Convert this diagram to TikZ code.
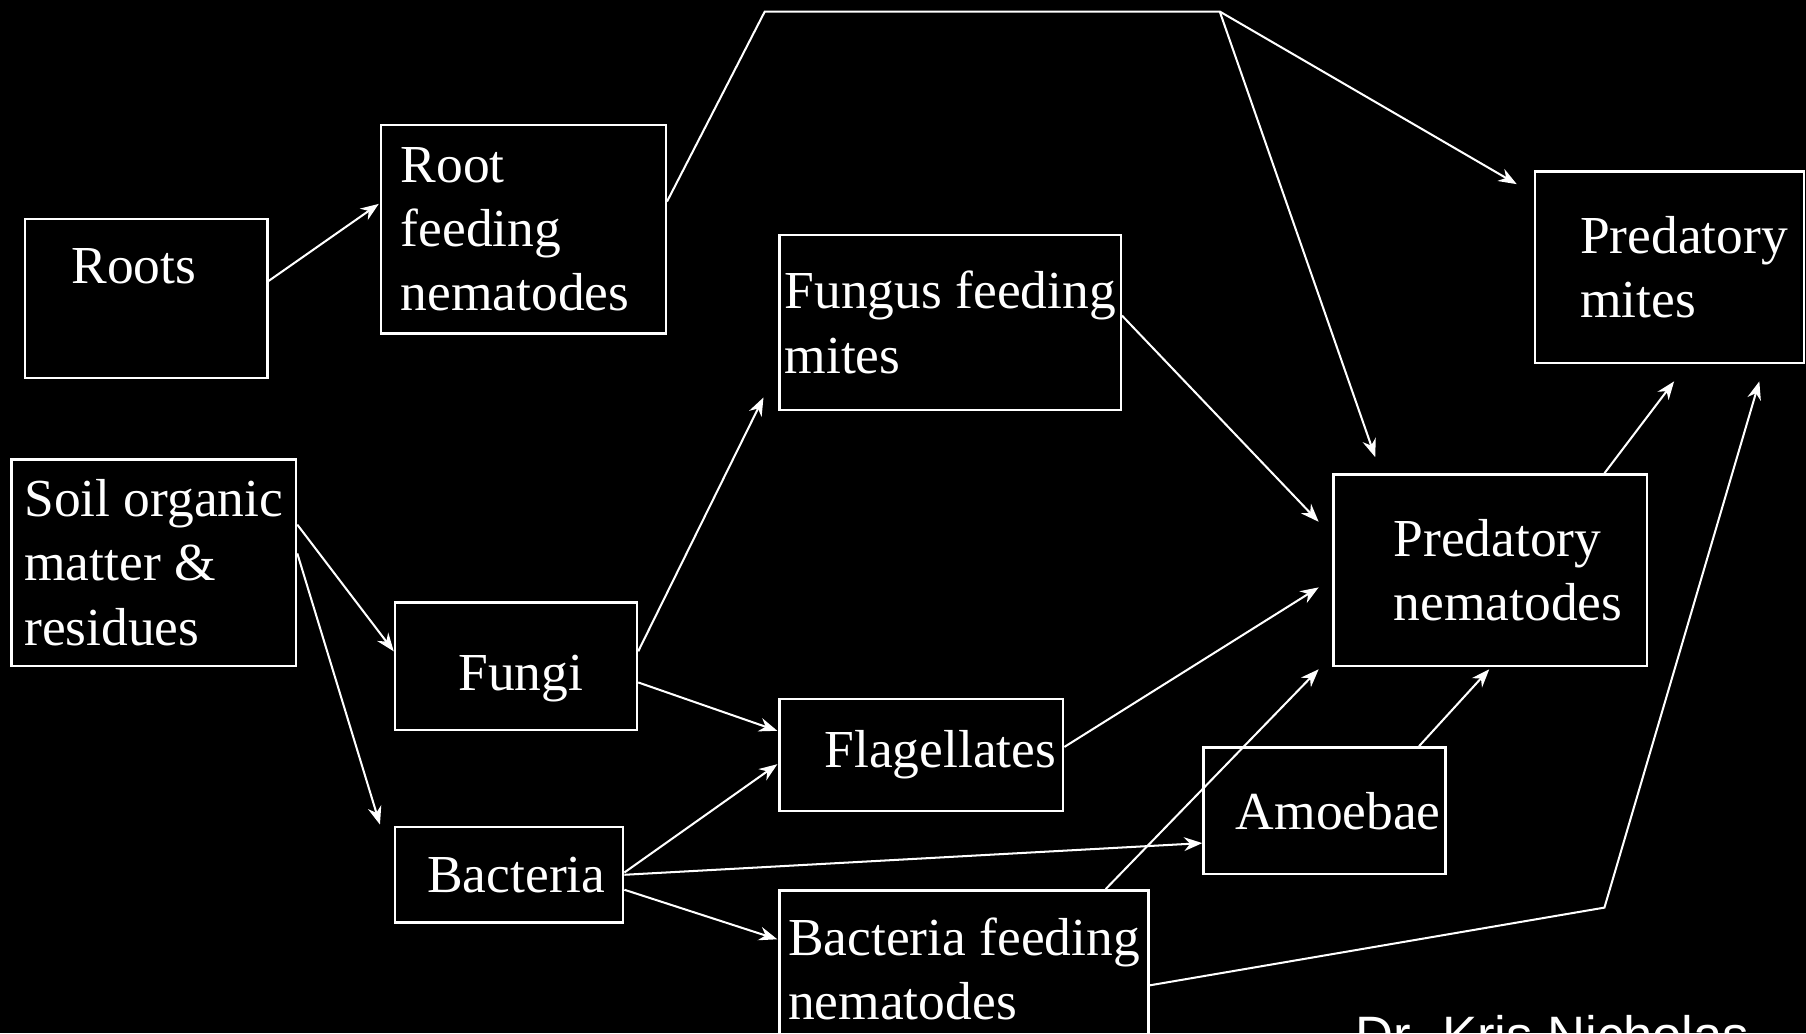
\documentclass[tikz,border=0pt]{standalone}
\usepackage{fontspec}
\setmainfont{Liberation Serif}
\newfontfamily\creditfont{Liberation Sans}
\usepackage{tikz}
\usetikzlibrary{arrows.meta,calc}
\hyphenpenalty=10000

\begin{document}
\begin{tikzpicture}[x=0.01cm,y=-0.01cm,>={Stealth[length=4.5pt,width=3.4pt]},
    food/.style={draw=white,line width=0.6pt,text=white,align=left,inner xsep=0pt,
        font=\fontsize{13.2}{15.9}\selectfont},
    link/.style={white,line width=0.5pt}]

\useasboundingbox (0,0) rectangle (1568,897);
\fill[black] (0,0) rectangle (1568,897);
\clip (0,0) rectangle (1568,897);

% ---------- sources ----------
\node[food,minimum width=2.10cm,minimum height=1.38cm,text width=1.30cm] (roots) at (127,259) {Roots\\~};
\node[food,minimum width=2.47cm,minimum height=1.79cm] (som) at (133.5,488.5) {Soil organic\\matter \&\\residues};

% ---------- first level ----------
\node[food,minimum width=2.47cm,minimum height=1.81cm,text width=2.13cm] (rfn) at (454.5,199) {Root\\feeding\\nematodes};
\node[food,minimum width=2.10cm,minimum height=1.11cm,text width=1.00cm,text height=0.52cm] (fungi) at (448,578.5) {Fungi};
\node[food,minimum width=1.98cm,minimum height=0.83cm,text width=1.42cm] (bact) at (442,759.5) {Bacteria};

% ---------- grazers ----------
\node[food,minimum width=2.96cm,minimum height=1.52cm] (ffm) at (825,280) {Fungus feeding\\mites};
\node[food,minimum width=2.46cm,minimum height=0.97cm,text width=1.68cm] (flag) at (800,655.5) {Flagellates};
\node[food,minimum width=2.10cm,minimum height=1.10cm,text width=1.54cm] (amoe) at (1150,704) {Amoebae};
\node[food,minimum width=3.20cm,minimum height=1.37cm] (bfn) at (837,841.5) {Bacteria feeding\\nematodes};

% ---------- predators ----------
\node[food,minimum width=2.72cm,minimum height=1.66cm,text width=1.68cm] (pne) at (1294,495) {Predatory\\nematodes};
\node[food,minimum width=2.33cm,minimum height=1.66cm,text width=1.55cm] (pmi) at (1449.5,232) {Predatory\\mites};

\node[text=white,font=\creditfont\fontsize{13}{15}\selectfont,anchor=base west,inner sep=0pt] (credit) at (1176,915) {Dr. Kris Nicholas};

% ---------- links ----------
\coordinate (top1) at (664,10);
\coordinate (top2) at (1059,10);
\coordinate (bend) at (1393,788);

\draw[link,->] ($(roots.east)+(0,-15)$) -- ($(rfn.west)+(-1,-22)$);
\draw[link,->] ($(rfn.east)+(0,-24)$) -- (top1) -- (top2) -- ($(pmi.north west)+(-15,12)$);
\draw[link,->] (top2) -- ($(pne.north)+(-100,-14)$);
\draw[link,->] ($(ffm.east)+(0,-6)$) -- ($(pne.west)+(-12,-42)$);

\draw[link,->] ($(som.east)+(0,-33)$) -- ($(fungi.west)+(0,-13)$);
\draw[link,->] ($(som.east)+(0,-8)$) -- ($(bact.north west)+(-12,-1)$);

\draw[link,->] ($(fungi.east)+(0,-13)$) -- ($(ffm.south west)+(-13,-12)$);
\draw[link,->] ($(fungi.east)+(0,14)$) -- ($(flag.west)+(-1,-21)$);

\draw[link,->] ($(bact.east)+(0,-2)$) -- ($(flag.west)+(-1,8)$);
\draw[link,->] (bact.east) -- ($(amoe.west)+(0,28)$);
\draw[link,->] ($(bact.east)+(0,13)$) -- ($(bfn.west)+(-1,-26)$);

\draw[link,->] ($(flag.east)+(0,-7)$) -- ($(pne.west)+(-12,15)$);
\draw[link,->] ($(bfn.north)+(123,0)$) -- ($(pne.south west)+(-12,2)$);
\draw[link,->] ($(amoe.north)+(82,0)$) -- ($(pne.south)+(-1,2)$);

\draw[link,->] ($(pne.north)+(99,0)$) -- ($(pmi.south)+(4,15)$);
\draw[link,->] ($(bfn.east)+(0,14)$) -- (bend) -- ($(pmi.south)+(78,15)$);

\end{tikzpicture}
\end{document}
